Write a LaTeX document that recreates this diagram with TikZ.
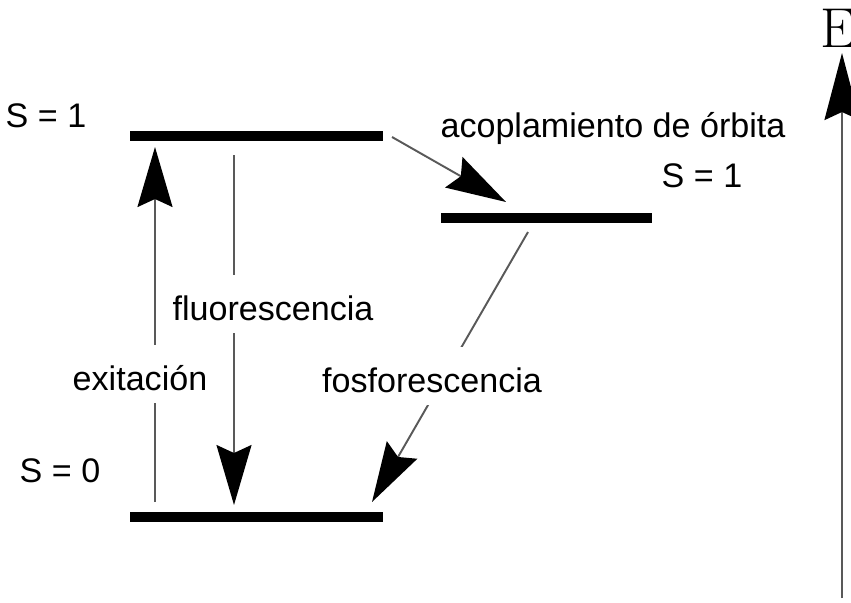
\documentclass[tikz,border=0pt]{standalone}
\usepackage{fontspec}
\setsansfont{Liberation Sans}
\usetikzlibrary{arrows.meta}

\begin{document}
\begin{tikzpicture}[x=0.02cm, y=-0.02cm,
        lbl/.style={font=\sffamily\fontsize{19.4}{23}\selectfont, anchor=base, inner sep=3.4pt},
        gap/.style={lbl, fill=white, text height=22pt, text depth=4pt},
        lvl/.style={line width=5.7pt},
        tip/.style={-{Stealth[length=1.2cm, width=0.7cm, inset=0.16cm, color=black]}},
        trans/.style={draw=black!65, line width=1.1pt, tip}]
        \useasboundingbox (0,0) rectangle (851,602);

        % Levels
        \coordinate (s1a) at (130,136);
        \coordinate (s1b) at (383,136);
        \coordinate (t1a) at (441,218);
        \coordinate (t1b) at (652,218);
        \coordinate (s0a) at (130,517);
        \coordinate (s0b) at (383,517);
        \draw[lvl] (s1a) -- (s1b)
                   (t1a) -- (t1b)
                   (s0a) -- (s0b);

        % Ends of the transitions
        \coordinate (exc0) at (155,502);
        \coordinate (exc1) at (155,147);
        \coordinate (flu0) at (234,155);
        \coordinate (flu1) at (234,505);
        \coordinate (cpl0) at (392,137);
        \coordinate (cpl1) at (506,202);
        \coordinate (pho0) at (528,232);
        \coordinate (pho1) at (372,502);
        \coordinate (e0) at (842,598);
        \coordinate (e1) at (842,53);

        % Transitions
        \draw (exc0) edge[trans] (exc1)
              (flu0) edge[trans] (flu1)
              (cpl0) edge[trans] (cpl1)
              (pho0) edge[trans] (pho1)
              (e0) edge[trans, line width=1.4pt,
                  -{Stealth[length=1.34cm, width=0.7cm, inset=0.16cm, color=black]}] (e1);

        % Labels
        \node[lbl] (s1) at (46,127) {S = 1};
        \node[lbl] (t1) at (702,187) {S = 1};
        \node[lbl] (s0) at (60,482) {S = 0};
        \node[lbl] (cpl) at (613,137) {acoplamiento de órbita};
        \node[gap] (flu) at (273,320) {fluorescencia};
        \node[gap] (exc) at (140,390) {exitación};
        \node[gap] (pho) at (432,392) {fosforescencia};
        \node[anchor=base, inner sep=0pt, font=\fontsize{32}{36}\selectfont] (E) at (838,47) {E};
\end{tikzpicture}
\end{document}
